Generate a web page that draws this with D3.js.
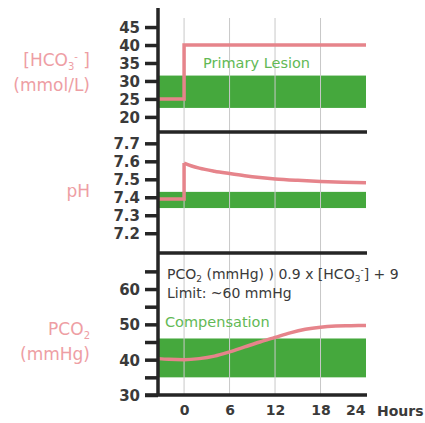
<!DOCTYPE html>
<html>
<head>
<meta charset="utf-8">
<script src="https://cdn.jsdelivr.net/npm/d3@7"></script>
<style>
  body { margin: 0; background: #fff; }
  svg { display: block; }
  .tick text { font-family: "DejaVu Sans", sans-serif; font-weight: bold; font-size: 14px; fill: #3a3a3a; }
  .yax .tick text { font-size: 15px; }
  .lbl { font-family: "DejaVu Sans", sans-serif; font-size: 17px; fill: #ee9ea4; }
  .note { font-family: "DejaVu Sans", sans-serif; font-size: 14px; fill: #3a3a3a; }
  .green { font-family: "DejaVu Sans", sans-serif; font-size: 14.5px; fill: #62b955; }
  .hours { font-family: "DejaVu Sans", sans-serif; font-weight: bold; font-size: 14px; fill: #3a3a3a; }
</style>
</head>
<body>
<div id="chart"></div>
<script>
// tick values
var hourTicks = [0, 6, 12, 18, 24];
var hco3Ticks = [20, 25, 30, 35, 40, 45];
var phTicks = [7.2, 7.3, 7.4, 7.5, 7.6, 7.7];
var pco2Ticks = [30, 35, 40, 45, 50, 55, 60, 65];
var pco2Labels = [30, 40, 50, 60];

// normal ranges (green bands)
var hco3Band = [22.5, 31.5];
var phBand = [7.34, 7.43];
var pco2Band = [35, 46];

// series
var hco3Hours = [-3.44, 0, 0, 24];
var hco3Values = [25, 25, 40, 40];

var phPreHours = [-3.44, 0, 0];
var phPreValues = [7.39, 7.39, 7.59];
var phHours = [0, 1, 2, 4, 6, 8, 10, 12, 15, 18, 21, 24];
var phValues = [7.59, 7.574, 7.562, 7.545, 7.532, 7.52, 7.51, 7.502, 7.494, 7.488, 7.484, 7.481];

var pco2Hours = [-3.44, -2, 0, 2, 4, 6, 8, 10, 12, 14, 16, 18, 20, 22, 24];
var pco2Values = [40.3, 40.1, 40, 40.3, 41, 42.2, 43.6, 45, 46.3, 47.6, 48.6, 49.2, 49.5, 49.6, 49.7];

var W = 425, H = 423;
var pink = '#e6848b', green = '#45a83d', ink = '#252525';

var svg = d3.select('#chart').append('svg').attr('width', W).attr('height', H);

var x = d3.scaleLinear().domain([-3.44, 24]).range([158, 366]);

var panels = [
    { y: d3.scaleLinear().domain([15.8, 50.3]).range([132, 8]), ticks: hco3Ticks, labels: hco3Ticks,
      fmt: d3.format('d'), band: hco3Band },
    { y: d3.scaleLinear().domain([7.09, 7.763]).range([253, 132]), ticks: phTicks, labels: phTicks,
      fmt: d3.format('.1f'), band: phBand },
    { y: d3.scaleLinear().domain([30, 70.2]).range([395, 253]), ticks: pco2Ticks, labels: pco2Labels,
      fmt: d3.format('d'), band: pco2Band }
];

// green bands
panels.forEach(function (p) {
    svg.append('rect')
        .attr('x', x.range()[0])
        .attr('y', p.y(p.band[1]))
        .attr('width', x.range()[1] - x.range()[0])
        .attr('height', p.y(p.band[0]) - p.y(p.band[1]))
        .attr('fill', green);
});

// grid lines
svg.append('g').selectAll('line')
    .data(hourTicks.filter(function (d) { return d < 24; }))
    .join('line')
    .attr('x1', function (d) { return x(d); })
    .attr('x2', function (d) { return x(d); })
    .attr('y1', 18).attr('y2', 395)
    .attr('stroke', '#c8c8c8').attr('stroke-width', 1);

// lines
var line = function (p, curve) {
    return d3.line()
        .x(function (d) { return x(d[0]); })
        .y(function (d) { return p.y(d[1]); })
        .curve(curve || d3.curveLinear);
};
function drawLine(p, xs, ys, curve) {
    svg.append('path')
        .datum(d3.zip(xs, ys))
        .attr('d', line(p, curve))
        .attr('fill', 'none')
        .attr('stroke', pink)
        .attr('stroke-width', 3.5);
}
drawLine(panels[0], hco3Hours, hco3Values);
drawLine(panels[1], phPreHours, phPreValues);
drawLine(panels[1], phHours, phValues, d3.curveMonotoneX);
drawLine(panels[2], pco2Hours, pco2Values, d3.curveMonotoneX);

// y axes
panels.forEach(function (p) {
    var ax = svg.append('g')
        .attr('class', 'yax')
        .attr('transform', 'translate(158,0)')
        .call(d3.axisLeft(p.y).tickValues(p.ticks).tickSize(13).tickPadding(5)
            .tickFormat(function (d) { return p.labels.indexOf(d) >= 0 ? p.fmt(d) : ''; }));
    ax.select('.domain').remove();
    ax.selectAll('.tick line').attr('stroke', ink).attr('stroke-width', 3.5);
    ax.selectAll('.tick text').attr('dy', '0.36em');
});

// vertical axis line and panel separators
svg.append('line').attr('x1', 158).attr('x2', 158).attr('y1', 8).attr('y2', 396)
    .attr('stroke', ink).attr('stroke-width', 3.5);
[panels[0].y.range()[0], panels[1].y.range()[0]].forEach(function (yy) {
    svg.append('line').attr('x1', 158).attr('x2', 367).attr('y1', yy).attr('y2', yy)
        .attr('stroke', ink).attr('stroke-width', 3.5);
});

// x axis
var xa = svg.append('g')
    .attr('transform', 'translate(0,395)')
    .call(d3.axisBottom(x).tickValues(hourTicks).tickSize(0).tickPadding(10));
xa.select('.domain').remove();
// last label sits just inside the plot end
xa.selectAll('.tick text').filter(function (d) { return d === 24; })
    .attr('text-anchor', 'end').attr('x', -1);
svg.append('line').attr('x1', 145).attr('x2', 367).attr('y1', 395).attr('y2', 395)
    .attr('stroke', ink).attr('stroke-width', 3.5);
svg.append('text').attr('class', 'hours').attr('x', 377).attr('y', 416).text('Hours');

// left labels
function label(lines, y0) {
    var t = svg.append('text').attr('class', 'lbl').attr('text-anchor', 'end');
    lines.forEach(function (l, i) {
        var ts = t.append('tspan').attr('x', 90).attr('y', y0 + i * 25);
        l.forEach(function (part) {
            var s = ts.append('tspan').text(part[0]);
            if (part[1] === 'sub') s.attr('font-size', 10).attr('dy', 4);
            if (part[1] === 'sup') s.attr('font-size', 10).attr('dy', -10);
            if (part[1] === 'back') s.attr('dy', part[2]);
        });
    });
}
label([[['[HCO'], ['3', 'sub'], ['-', 'sup'], [' ]', 'back', 6]], [['(mmol/L)']]], 66);
label([[['pH']]], 197);
label([[['PCO'], ['2', 'sub']], [['(mmHg)']]], 335);

// notes
svg.append('text').attr('class', 'green').attr('x', 203).attr('y', 68).text('Primary Lesion');
svg.append('text').attr('class', 'green').attr('x', 165).attr('y', 327).text('Compensation');

var n1 = svg.append('text').attr('class', 'note').attr('x', 167).attr('y', 279);
n1.append('tspan').text('PCO');
n1.append('tspan').attr('font-size', 9).attr('dy', 3).text('2');
n1.append('tspan').attr('dy', -3).text(' (mmHg) ) 0.9 x [HCO');
n1.append('tspan').attr('font-size', 9).attr('dy', 3).text('3');
n1.append('tspan').attr('font-size', 9).attr('dy', -9).text('-');
n1.append('tspan').attr('dy', 6).text('] + 9');
svg.append('text').attr('class', 'note').attr('x', 167).attr('y', 298).text('Limit: ~60 mmHg');
</script>
</body>
</html>
